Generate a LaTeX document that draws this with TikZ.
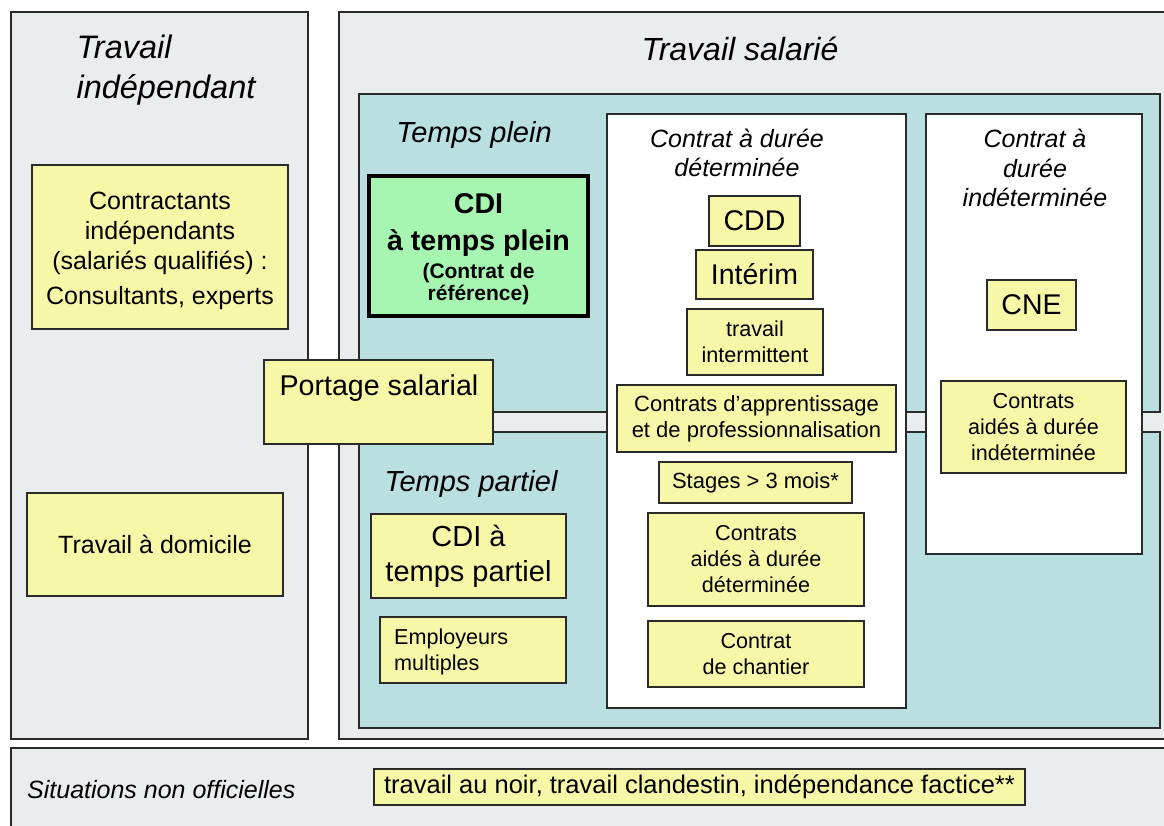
\documentclass[tikz,border=0pt]{standalone}
\usepackage{fontspec}
\setmainfont{Liberation Sans}
\definecolor{panelgrey}{HTML}{E9EDEE}
\definecolor{tealbg}{HTML}{B9DFE1}
\definecolor{yel}{HTML}{F6F8A7}
\definecolor{grn}{HTML}{A6F5B0}
\definecolor{edge}{HTML}{2A2A2A}
\newcommand\fs[2]{\fontsize{#1pt}{#2pt}\selectfont}
\newcommand\rbox[7]{\node[#2, minimum width={(#5-#3)*1pt}, minimum height={(#6-#4)*1pt}] (#1) at ({(#3+#5)/2},{(#4+#6)/2}) {#7};}
\begin{document}
\begin{tikzpicture}[x=1pt,y=-1pt,
  base/.style={rectangle, inner sep=0pt, align=center, text=black},
  panel/.style={base, draw=edge, line width=1.3pt, fill=panelgrey},
  zone/.style={base, draw=edge, line width=1.3pt, fill=tealbg},
  col/.style={base, draw=edge, line width=1.3pt, fill=white},
  ybox/.style={base, draw=edge, line width=1.3pt, fill=yel},
  gbox/.style={base, draw=black, line width=4pt, fill=grn},
  small/.style={font=\fs{21.6}{26}},
  big/.style={font=\fs{28.5}{32}},
  ttl/.style={inner sep=0pt, align=center}]
\useasboundingbox (0,0) rectangle (1164,825);
\clip (0,0) rectangle (1164,825);
\fill[white] (0,0) rectangle (1164,825);
% panels
\rbox{indep}{panel}{11}{12}{308}{739}{}
\rbox{salarie}{panel}{339}{12}{1180}{739}{}
\rbox{nonoff}{panel}{11}{748}{1180}{840}{}
% zones
\rbox{plein}{zone}{359}{94}{1160}{412}{}
\rbox{partiel}{zone}{359}{432}{1160}{728}{}
% columns
\rbox{cddcol}{col}{607}{114}{906}{708}{}
\rbox{cdicol}{col}{926}{114}{1142}{554}{}
% titles
\node[ttl, align=left, font=\fs{32.5}{40}\itshape] (tindep) at (166,70) {Travail\\indépendant};
\node[ttl, font=\fs{32}{40}\itshape] (tsal) at (740,49) {Travail salarié};
\node[ttl, font=\fs{29}{32}\itshape] (tplein) at (474,135) {Temps plein};
\node[ttl, font=\fs{29}{32}\itshape] (tpartiel) at (471,484) {Temps partiel};
\node[ttl, font=\fs{25}{29}\itshape] (tcdd) at (737,153) {Contrat à durée\\déterminée};
\node[ttl, font=\fs{25}{29.5}\itshape] (tcdi) at (1035,168) {Contrat à\\durée\\indéterminée};
\node[ttl, anchor=west, font=\fs{25}{30}\itshape] (tnon) at (27,790) {Situations non officielles};
% left panel boxes
\rbox{contract}{ybox}{32}{165}{288}{329}{}
\node[base, font=\fs{25}{30}] (contractt) at (160,251) {Contractants\\indépendants\\(salariés qualifiés) :\\[5pt]Consultants, experts};
\rbox{domicile}{ybox, font=\fs{25}{30}}{27}{493}{283}{596}{Travail à domicile}
% green
\rbox{cdiplein}{gbox}{369}{176}{588}{316}{}
\node[base, font=\fs{28.6}{36}\bfseries] (cdipleint) at (478.5,249) {CDI\\[1pt]à temps plein\\[-8pt]\fs{21}{23}\bfseries (Contrat de\\[-14pt]\fs{21}{23}\bfseries référence)};
% cdd column
\rbox{cdd}{ybox, big}{709}{196}{800}{246}{CDD}
\rbox{interim}{ybox, big}{696}{250}{813}{299}{Intérim}
\rbox{intermit}{ybox, small}{687}{309}{823}{375}{travail\\intermittent}
\rbox{apprent}{ybox, font=\fs{22}{26}}{617}{385}{896}{452}{Contrats d’apprentissage\\et de professionnalisation}
\rbox{stages}{ybox, font=\fs{22}{26}}{659}{462}{852}{503}{Stages > 3 mois*}
\rbox{aidesdd}{ybox, small}{648}{513}{864}{606}{Contrats\\aidés à durée\\déterminée}
\rbox{chantier}{ybox, small}{648}{621}{864}{687}{Contrat\\de chantier}
% cdi column
\rbox{cne}{ybox, big}{987}{280}{1076}{330}{CNE}
\rbox{aidesdi}{ybox, small}{941}{381}{1126}{473}{Contrats\\aidés à durée\\indéterminée}
% partiel
\rbox{cdipart}{ybox, font=\fs{29}{35}}{371}{514}{566}{598}{CDI à\\temps partiel}
\rbox{employ}{ybox}{380}{617}{566}{683}{}
\node[base, anchor=west, align=left, small] (employt) at (394,652) {Employeurs\\multiples};
% portage
\rbox{portage}{ybox}{264}{360}{493}{444}{}
\node[base, font=\fs{28.6}{32}] (portaget) at (379,388) {Portage salarial};
% bottom
\rbox{noir}{ybox, font=\fs{25.5}{30}}{374}{769}{1025}{805}{travail au noir, travail clandestin, indépendance factice**}
\end{tikzpicture}
\end{document}
